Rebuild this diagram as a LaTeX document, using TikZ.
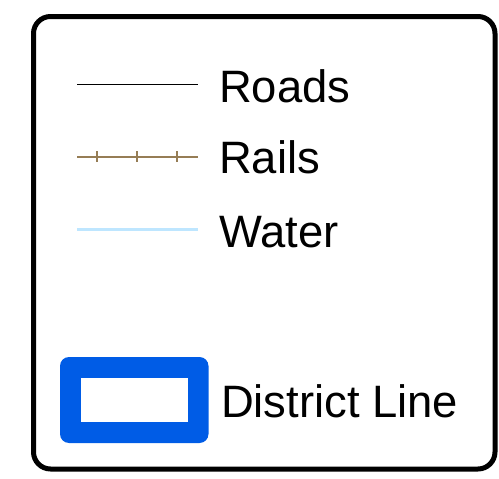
\documentclass[tikz,border=0pt]{standalone}
\usepackage{fontspec}
\setmainfont{Liberation Sans}
\tikzset{
  legendlabel/.style={anchor=base west,inner sep=0pt,outer sep=0pt,font=\fontsize{45.4}{45.4}\selectfont,text=black},
  frameline/.style={draw=black,line width=5pt,rounded corners=17pt},
  roadline/.style={draw=black,line width=1.6pt},
  railline/.style={draw=railc,line width=2pt},
  railtick/.style={draw=railc,line width=1.4pt},
  waterline/.style={draw=waterc,line width=2.2pt},
}
\definecolor{railc}{RGB}{150,125,85}
\definecolor{waterc}{RGB}{190,230,255}
\definecolor{districtc}{RGB}{0,92,230}
\begin{document}
\begin{tikzpicture}[x=1pt,y=-1pt]
\useasboundingbox (0,0) rectangle (499,479);
\draw[frameline] (33.5,16.5) rectangle (495,469);
\coordinate (ra) at (77,84.5); \coordinate (rb) at (197.5,84.5);
\draw[roadline] (ra) -- (rb);
\coordinate (la) at (77,156.5); \coordinate (lb) at (197.5,156.5);
\draw[railline] (la) -- (lb);
\foreach \x in {97,137,177}{\draw[railtick] (\x,151) -- (\x,162);}
\coordinate (wa) at (77,229.5); \coordinate (wb) at (197.5,229.5);
\draw[waterline] (wa) -- (wb);
\fill[districtc,rounded corners=9pt] (60,357) rectangle (208.5,443);
\fill[white] (81,378) rectangle (187.5,422);
\node[legendlabel] (roads) at (219,102) {Roads};
\node[legendlabel] (rails) at (219,173.5) {Rails};
\node[legendlabel] (water) at (219,247) {Water};
\node[legendlabel] (district) at (221,417) {District Line};
\end{tikzpicture}
\end{document}
